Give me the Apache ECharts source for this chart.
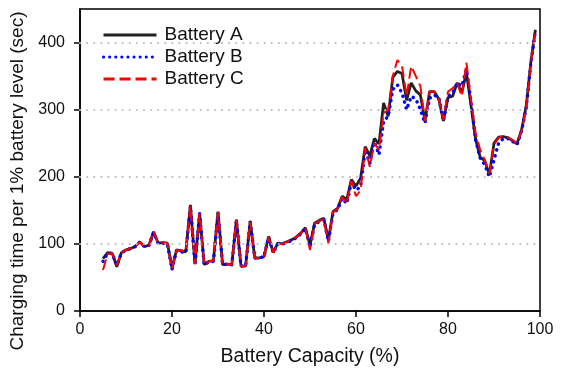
<!DOCTYPE html>
<html>
<head>
<meta charset="utf-8">
<script src="https://cdn.jsdelivr.net/npm/echarts@6/dist/echarts.min.js"></script>
<style>
  html, body { margin: 0; padding: 0; background: #fff; }
  #chart { width: 567px; height: 379px; }
</style>
</head>
<body>
<div id="chart"></div>
<script>
// battery capacity (%) 5..99
const capacity = [5,6,7,8,9,10,11,12,13,14,15,16,17,18,19,20,21,22,23,24,25,26,27,28,29,30,31,32,33,34,35,36,37,38,39,40,41,42,43,44,45,46,47,48,49,50,51,52,53,54,55,56,57,58,59,60,61,62,63,64,65,66,67,68,69,70,71,72,73,74,75,76,77,78,79,80,81,82,83,84,85,86,87,88,89,90,91,92,93,94,95,96,97,98,99]

const batteryA = [78,87,86,66,87,91,93,96,103,96,98,118,101,102,101,64,91,90,88,158,70,146,69,74,75,148,69,70,69,136,67,67,134,79,79,81,111,87,101,100,103,106,110,116,124,98,131,135,138,106,148,153,171,166,196,186,198,245,231,257,249,310,290,348,357,354,314,340,328,322,283,327,327,316,283,318,320,340,325,356,306,256,229,224,203,250,259,260,258,254,249,270,305,370,419]

const batteryB = [74,86,86,68,86,91,93,96,103,96,98,117,101,101,100,62,90,88,87,156,70,145,69,73,74,146,69,70,69,135,67,67,133,79,79,81,110,87,100,100,102,105,109,115,123,95,129,133,136,104,146,151,168,160,192,180,185,240,220,252,233,283,290,330,337,325,300,320,316,300,280,317,322,318,283,320,325,340,335,360,312,255,228,218,200,225,250,257,257,253,248,268,303,368,418]

const batteryC = [61,85,86,68,87,91,93,96,103,96,98,119,101,102,101,63,91,90,88,157,70,146,69,74,75,147,69,70,69,136,67,67,133,79,79,81,110,87,100,100,103,106,110,116,124,91,130,134,137,101,147,152,170,160,194,171,180,243,215,250,240,295,300,350,374,365,320,365,350,335,283,327,327,316,285,327,332,340,320,370,315,265,240,225,205,248,258,261,259,255,250,268,302,368,418]

const xTicks = [0, 20, 40, 60, 80, 100]
const yTicks = [0, 100, 200, 300, 400]

const chartDom = document.getElementById('chart')
const myChart = echarts.init(chartDom, null, { renderer: 'canvas' })

const font = 'Liberation Sans, Arial, sans-serif'
const pair = arr => capacity.map((x, i) => [x, arr[i]])

const option = {
  animation: false,
  backgroundColor: '#fff',
  textStyle: { fontFamily: font },
  grid: {
    left: 80, right: 27, top: 9, bottom: 68,
    show: true, borderColor: '#000', borderWidth: 1.5, backgroundColor: 'transparent'
  },
  legend: {
    orient: 'vertical',
    left: 97, top: 20,
    itemWidth: 53, itemHeight: 10, itemGap: 2,
    itemStyle: { opacity: 0 },
    lineStyle: { width: 3 },
    textStyle: { fontFamily: font, fontSize: 19, color: '#111', lineHeight: 20, padding: [0, 0, 0, 3] },
    data: ['Battery A', 'Battery B', 'Battery C']
  },
  xAxis: {
    type: 'value',
    min: 0, max: 100, interval: 20,
    name: 'Battery Capacity (%)',
    nameLocation: 'middle', nameGap: 36,
    nameTextStyle: { fontFamily: font, fontSize: 19.5, color: '#111' },
    axisLine: { lineStyle: { color: '#000', width: 1.5 } },
    axisTick: { inside: false, length: 6, lineStyle: { color: '#000', width: 1.5 } },
    axisLabel: { fontFamily: font, fontSize: 16, color: '#111', margin: 11,
      formatter: v => xTicks.includes(v) ? String(v) : '' },
    splitLine: { show: false }
  },
  yAxis: {
    type: 'value',
    min: 0, max: 450, interval: 100,
    name: 'Charging time per 1% battery level (sec)',
    nameLocation: 'middle', nameGap: 48,
    nameTextStyle: { fontFamily: font, fontSize: 19, color: '#111', padding: [0, 42, 0, 0] },
    axisLine: { show: true, lineStyle: { color: '#000', width: 1.5 } },
    axisTick: { inside: false, length: 6, lineStyle: { color: '#000', width: 1.5 } },
    axisLabel: { fontFamily: font, fontSize: 16, color: '#111', margin: 15,
      showMaxLabel: false,
      formatter: v => yTicks.includes(v) ? String(v) : '' },
    splitLine: { show: false }
  },
  series: [
    {
      // dotted horizontal guide lines
      name: 'grid', type: 'line', data: [], z: 1, silent: true,
      markLine: {
        silent: true, symbol: 'none', label: { show: false }, animation: false,
        lineStyle: { color: '#bbb', width: 2, type: [0.1, 7], cap: 'round' },
        data: yTicks.filter(v => v > 0).map(v => ({ yAxis: v }))
      }
    },
    {
      name: 'Battery A', type: 'line', symbol: 'none', z: 2,
      data: pair(batteryA),
      lineStyle: { color: '#222', width: 2.8 },
      itemStyle: { color: '#222' }
    },
    {
      name: 'Battery B', type: 'line', symbol: 'none', z: 3,
      data: pair(batteryB),
      lineStyle: { color: '#0000ff', width: 3.5, type: [0.1, 6], cap: 'round' },
      itemStyle: { color: '#0000ff' }
    },
    {
      name: 'Battery C', type: 'line', symbol: 'none', z: 4,
      data: pair(batteryC),
      lineStyle: { color: '#ff0000', width: 2, type: [11, 5] },
      itemStyle: { color: '#ff0000' }
    }
  ]
}

myChart.setOption(option)
</script>
</body>
</html>
